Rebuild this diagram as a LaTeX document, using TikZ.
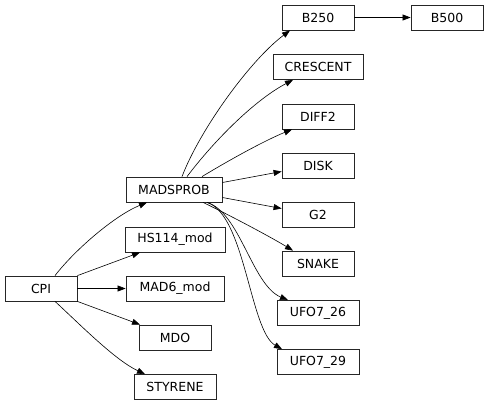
\documentclass[tikz,border=0pt]{standalone}
\usepackage{fontspec}
\setmainfont{DejaVu Sans}
\usetikzlibrary{arrows.meta}
\begin{document}
\begin{tikzpicture}[x=1pt,y=-1pt,
  box/.style={draw=black!85, line width=0.8pt, minimum height=25pt, minimum width=72pt, inner sep=0pt, font=\fontsize{12.5}{14}\selectfont},
  edge/.style={draw=black, line width=0.6pt, -{Triangle[length=8pt,width=6pt]}}]
\useasboundingbox (0,0) rectangle (489,405);
\node[box] (cpi) at (41,288.5) {CPI};
\node[box, minimum width=96pt] (mads) at (174,189.5) {MADSPROB};
\node[box, minimum width=100pt] (hs) at (175,239.5) {HS114\_mod};
\node[box, minimum width=98pt] (mad6) at (175,288.5) {MAD6\_mod};
\node[box] (mdo) at (175,337.5) {MDO};
\node[box, minimum width=82pt] (sty) at (175,387) {STYRENE};
\node[box] (b250) at (318,17.5) {B250};
\node[box, minimum width=90pt] (cres) at (318,67) {CRESCENT};
\node[box] (diff) at (318,116.5) {DIFF2};
\node[box] (disk) at (318,165.5) {DISK};
\node[box] (g2) at (318,214.5) {G2};
\node[box] (snake) at (318,263.5) {SNAKE};
\node[box, minimum width=82pt] (ufo26) at (318,313) {UFO7\_26};
\node[box, minimum width=82pt] (ufo29) at (318,362) {UFO7\_29};
\node[box] (b500) at (447,17.5) {B500};

\draw[edge] ([xshift=14pt]cpi.north) .. controls +(20,-26) and +(-32,13) .. ([xshift=-27pt]mads.south);
\draw[edge] (cpi.north east) -- ([xshift=-35pt]hs.south);
\draw[edge] (cpi.east) -- (mad6.west);
\draw[edge] (cpi.south east) -- ([xshift=-35pt]mdo.north);
\draw[edge] ([xshift=14pt]cpi.south) .. controls +(25,23) and +(-30,-14) .. ([xshift=-30pt]sty.north);

\draw[edge] ([xshift=8pt]mads.north) .. controls +(18,-47) and +(-40,30) .. ([xshift=-28pt]b250.south);
\draw[edge] ([xshift=13pt]mads.north) .. controls +(28,-37) and +(-38,20) .. ([xshift=-25pt]cres.south);
\draw[edge] ([xshift=28pt]mads.north) .. controls +(28,-17) and +(-27,11) .. ([xshift=-26pt]diff.south);
\draw[edge] ([yshift=7pt]mads.east) -- ([yshift=-6pt]disk.west);
\draw[edge] ([yshift=-8pt]mads.east) -- ([yshift=6pt]g2.west);
\draw[edge] ([xshift=29pt]mads.south) .. controls +(27,13) and +(-23,-14) .. ([xshift=-25pt]snake.north);
\draw[edge] ([xshift=33pt]mads.south) .. controls +(33,10) and +(-36,-15) .. ([xshift=-30pt]ufo26.north);
\draw[edge] ([xshift=33pt]mads.south) .. controls +(38,12) and +(-32,-18) .. ([xshift=-36pt]ufo29.north);

\draw[edge] (b250.east) -- (b500.west);
\end{tikzpicture}
\end{document}
